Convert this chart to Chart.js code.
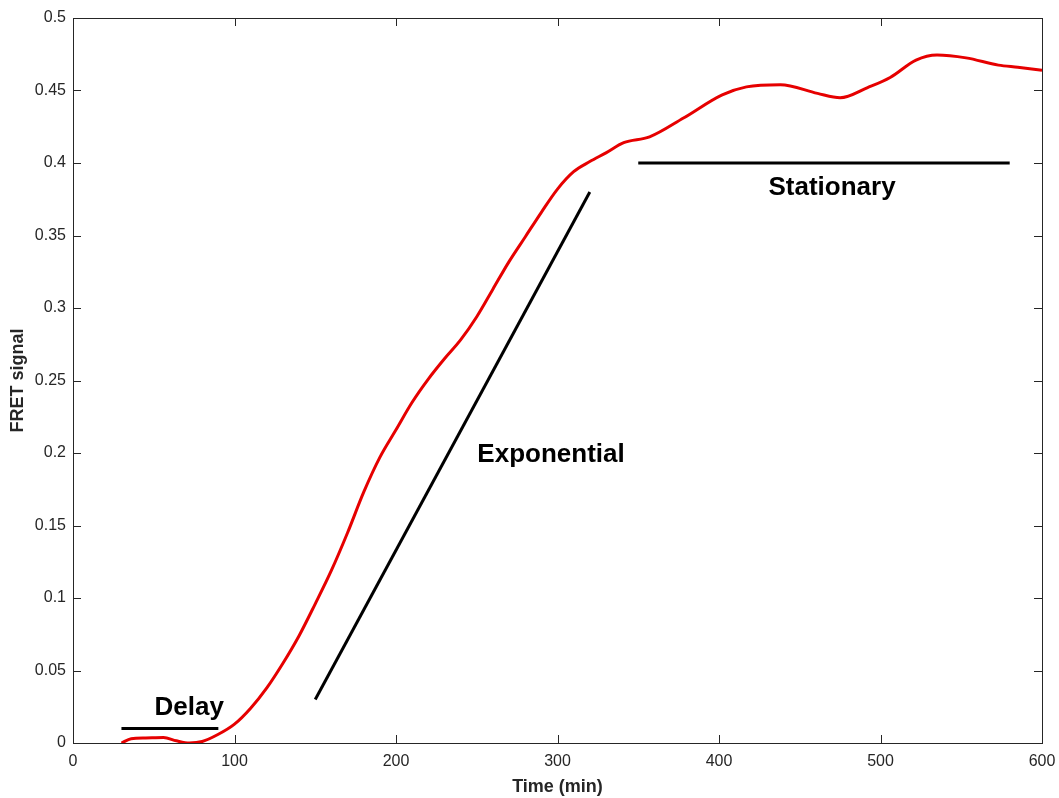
<!DOCTYPE html>
<html>
<head>
<meta charset="utf-8">
<script src="https://cdn.jsdelivr.net/npm/chart.js@4.4.1/dist/chart.umd.min.js"></script>
<style>
  html, body { margin: 0; padding: 0; background: #fff; }
  #wrap { width: 1059px; height: 798px; }
</style>
</head>
<body>
<div id="wrap"><canvas id="chart"></canvas></div>
<script>
// FRET signal
const timeMin = [30, 36, 45, 56, 64, 72, 80, 90, 100, 110, 120, 130, 140, 150, 160, 170, 180, 190, 200,
  210, 220, 230, 240, 250, 260, 270, 280, 290, 300, 310, 320, 330, 341, 357, 378, 402, 417, 438,
  461, 475, 492, 506, 522, 535, 553, 573, 585, 600];
const fretSignal = [0.0, 0.003, 0.0035, 0.0038, 0.0015, 0.0, 0.001, 0.006, 0.013, 0.024, 0.038, 0.055,
  0.074, 0.096, 0.119, 0.145, 0.173, 0.197, 0.216, 0.235, 0.251, 0.265, 0.278, 0.294, 0.313, 0.332,
  0.349, 0.366, 0.382, 0.394, 0.401, 0.407, 0.414, 0.418, 0.431, 0.447, 0.4525, 0.454, 0.448, 0.445,
  0.452, 0.459, 0.471, 0.4745, 0.4725, 0.4675, 0.466, 0.464];

// phase marker segments [t0, y0, t1, y1]
const delayLine = [30, 0.01, 90, 0.01];
const expLine = [150, 0.03, 320, 0.38];
const statLine = [350, 0.4, 580, 0.4];

const phaseLabels = ["Delay", "Exponential", "Stationary"];
const labelAt = [[72, 0.024], [296, 0.199], [470, 0.383]];

const xTicks = [0, 100, 200, 300, 400, 500, 600];
const yTicks = [0, 0.05, 0.1, 0.15, 0.2, 0.25, 0.3, 0.35, 0.4, 0.45, 0.5];

const seg = s => [{ x: s[0], y: s[1] }, { x: s[2], y: s[3] }];
const AXIS_COLOR = "#262626";
const FONT = "'Liberation Sans', Arial, Helvetica, sans-serif";

const boxAndTicks = {
  id: "boxAndTicks",
  afterDatasetsDraw(chart) {
    const { ctx, chartArea: a, scales } = chart;
    ctx.save();
    ctx.strokeStyle = AXIS_COLOR;
    ctx.lineWidth = 1;
    ctx.strokeRect(a.left + 0.5, a.top + 0.5, a.right - a.left, a.bottom - a.top);
    const len = 8;
    ctx.beginPath();
    xTicks.forEach(v => {
      const px = Math.round(scales.x.getPixelForValue(v)) + 0.5;
      ctx.moveTo(px, a.bottom); ctx.lineTo(px, a.bottom - len);
      ctx.moveTo(px, a.top); ctx.lineTo(px, a.top + len);
    });
    yTicks.forEach(v => {
      const py = Math.round(scales.y.getPixelForValue(v)) + 0.5;
      ctx.moveTo(a.left, py); ctx.lineTo(a.left + len, py);
      ctx.moveTo(a.right, py); ctx.lineTo(a.right - len, py);
    });
    ctx.stroke();

    ctx.fillStyle = "#000";
    ctx.font = "bold 26px " + FONT;
    ctx.textAlign = "center";
    ctx.textBaseline = "middle";
    phaseLabels.forEach((t, i) => {
      ctx.fillText(t, scales.x.getPixelForValue(labelAt[i][0]), scales.y.getPixelForValue(labelAt[i][1]));
    });
    ctx.restore();
  }
};

const ctx = document.getElementById("chart").getContext("2d");
new Chart(ctx, {
  type: "scatter",
  data: {
    datasets: [
      {
        label: "FRET",
        data: timeMin.map((t, i) => ({ x: t, y: fretSignal[i] })),
        showLine: true,
        borderColor: "#e60000",
        borderWidth: 3,
        pointRadius: 0,
        cubicInterpolationMode: "monotone",
      },
      { label: "delay", data: seg(delayLine), showLine: true, borderColor: "#000", borderWidth: 3, pointRadius: 0 },
      { label: "exp", data: seg(expLine), showLine: true, borderColor: "#000", borderWidth: 3, pointRadius: 0 },
      { label: "stat", data: seg(statLine), showLine: true, borderColor: "#000", borderWidth: 3, pointRadius: 0 },
    ],
  },
  options: {
    responsive: true,
    maintainAspectRatio: false,
    animation: false,
    layout: { padding: { top: 18, right: 17, left: 0, bottom: 0 } },
    plugins: { legend: { display: false }, tooltip: { enabled: false } },
    scales: {
      x: {
        type: "linear",
        min: 0,
        max: 600,
        afterBuildTicks: s => { s.ticks = xTicks.map(v => ({ value: v })); },
        afterFit: s => { s.height = 55; s.paddingLeft = 0; s.paddingRight = 0; },
        grid: { display: false, drawTicks: false },
        border: { display: false },
        ticks: { color: AXIS_COLOR, padding: 9, font: { size: 16, family: FONT } },
        title: {
          display: true,
          text: "Time (min)",
          color: AXIS_COLOR,
          font: { size: 18, weight: "bold", family: FONT },
          padding: { top: 0, bottom: 0 },
        },
      },
      y: {
        min: 0,
        max: 0.5,
        afterBuildTicks: s => { s.ticks = yTicks.map(v => ({ value: v })); },
        afterFit: s => { s.width = 73; s.paddingTop = 0; s.paddingBottom = 0; },
        grid: { display: false, drawTicks: false },
        border: { display: false },
        ticks: {
          color: AXIS_COLOR,
          padding: 7,
          font: { size: 16, family: FONT },
          callback: v => String(+v.toFixed(2)),
        },
        title: {
          display: true,
          text: "FRET signal",
          color: AXIS_COLOR,
          font: { size: 18, weight: "bold", family: FONT },
          padding: { top: 7, bottom: 0 },
        },
      },
    },
  },
  plugins: [boxAndTicks],
});
</script>
</body>
</html>
